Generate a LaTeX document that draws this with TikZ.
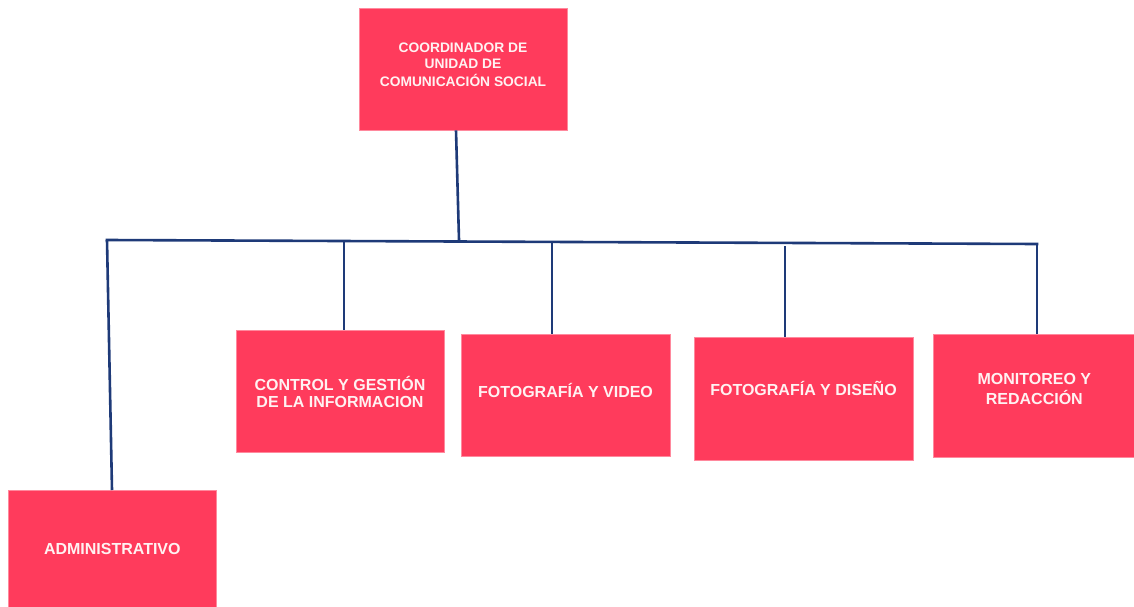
\documentclass[tikz,border=0pt]{standalone}
\usepackage{fontspec}
\setmainfont{Liberation Sans}
\definecolor{boxred}{HTML}{FF3B5C}
\definecolor{navy}{HTML}{1E3A78}
\definecolor{txt}{HTML}{FFF2F2}
\newcommand\boxtext[2]{\raisebox{#1}[\height][\depth]{\begin{tabular}{@{}c@{}}#2\end{tabular}}}
\begin{document}
\begin{tikzpicture}[x=1pt,y=-1pt,
  unit/.style={fill=boxred,draw=boxred!60!white,line width=0.6pt,minimum width=#1,
    text=txt,font=\bfseries\fontsize{16}{16.5}\selectfont,align=center,inner sep=0pt},
  unit/.default=208pt,
  link/.style={draw=navy,line width=2.6pt}]
\useasboundingbox[fill=white] (0,0) rectangle (1134,607);
\node[unit, minimum height=122pt, font=\bfseries\fontsize{13.8}{16.5}\selectfont] (top) at (463,69) {\boxtext{3pt}{COORDINADOR DE\\UNIDAD DE\\COMUNICACIÓN SOCIAL}};
\node[unit, minimum height=118pt, anchor=north west] (adm) at (8,490) {\boxtext{-2pt}{ADMINISTRATIVO}};
\node[unit, minimum height=122pt] (ctl) at (340,391) {\boxtext{-3.4pt}{CONTROL Y GESTIÓN\\DE LA INFORMACION}};
\node[unit=209pt, minimum height=122pt] (fv) at (565.5,395) {\boxtext{2.6pt}{FOTOGRAFÍA Y VIDEO}};
\node[unit=219pt, minimum height=123pt] (fd) at (803.5,398.5) {\boxtext{8pt}{FOTOGRAFÍA Y DISEÑO}};
\node[unit=202pt, minimum height=123pt, anchor=north west] (mon) at (933,334) {\boxtext{4.6pt}{MONITOREO Y\\REDACCIÓN}};
\coordinate (jt) at (459,240);
\coordinate (bl) at (107,240);
\coordinate (br) at (1037,244);
\coordinate (b1) at (344,240.5);
\coordinate (b2) at (552,241.5);
\coordinate (b3) at (785,246);
\draw[link] (top.south -| 456,0) -- (jt);
\draw[link,line cap=rect] (bl) -- (br);
\draw[link] (bl) -- (adm.north -| 112,0);
\draw[link] (b1) -- (ctl.north -| b1);
\draw[link] (b2) -- (fv.north -| b2);
\draw[link] (b3) -- (fd.north -| b3);
\draw[link] (br) -- (mon.north -| br);
\end{tikzpicture}
\end{document}
